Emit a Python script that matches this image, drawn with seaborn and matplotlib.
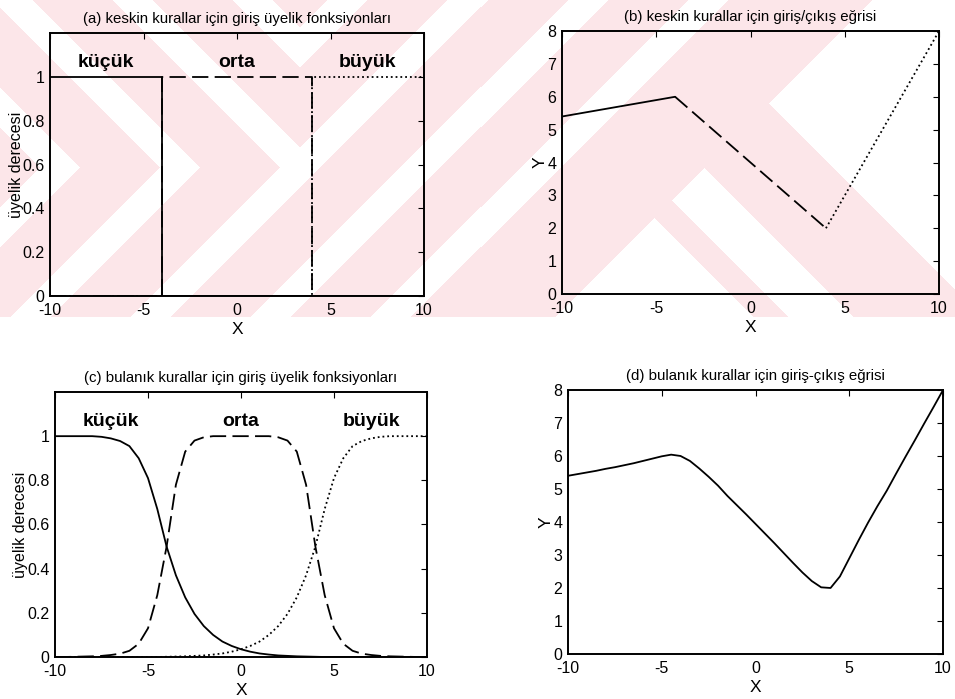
import numpy as np
import pandas as pd
import matplotlib
matplotlib.use("Agg")
import matplotlib.pyplot as plt
import seaborn as sns

# (a) crisp membership functions (step shapes)
a_kucuk_x = [-10, -4, -4, 10]
a_kucuk_y = [1, 1, 0, 0]
a_orta_x = [-10, -4, -4, 4, 4, 10]
a_orta_y = [0, 0, 1, 1, 0, 0]
a_buyuk_x = [-10, 4, 4, 10]
a_buyuk_y = [0, 0, 1, 1]

# (b) crisp input/output curve
b_kucuk_x = [-10, -4]
b_kucuk_y = [5.4, 6.0]
b_orta_x = [-4, 4]
b_orta_y = [6.0, 2.0]
b_buyuk_x = [4, 10]
b_buyuk_y = [2.0, 8.0]

# (c) fuzzy membership functions, read every 0.5 on x
c_x = [-10, -9.5, -9, -8.5, -8, -7.5, -7, -6.5, -6, -5.5, -5, -4.5, -4, -3.5, -3,
       -2.5, -2, -1.5, -1, -0.5, 0, 0.5, 1, 1.5, 2, 2.5, 3, 3.5, 4, 4.5, 5,
       5.5, 6, 6.5, 7, 7.5, 8, 8.5, 9, 9.5, 10]
c_kucuk = [1.0, 1.0, 1.0, 1.0, 1.0, 0.997, 0.99, 0.978, 0.955, 0.9, 0.81, 0.67, 0.5,
           0.37, 0.27, 0.195, 0.14, 0.1, 0.07, 0.05, 0.035, 0.024, 0.016, 0.011, 0.007,
           0.005, 0.003, 0.002, 0.001, 0, 0, 0, 0, 0, 0, 0, 0, 0, 0, 0, 0]
c_orta = [0, 0, 0.001, 0.002, 0.003, 0.005, 0.009, 0.015, 0.028, 0.06, 0.13, 0.28, 0.5,
          0.78, 0.93, 0.98, 0.995, 1.0, 1.0, 1.0, 1.0, 1.0, 1.0, 1.0, 0.995, 0.98, 0.93,
          0.78, 0.5, 0.28, 0.13, 0.06, 0.028, 0.015, 0.009, 0.005, 0.003, 0.002, 0.001, 0, 0]
c_buyuk = c_kucuk[::-1]

# (d) fuzzy input/output curve
d_y = [5.40, 5.45, 5.50, 5.55, 5.61, 5.66, 5.72, 5.78, 5.85, 5.92, 5.99, 6.04, 6.0,
       5.85, 5.62, 5.37, 5.10, 4.79, 4.51, 4.23, 3.94, 3.65, 3.36, 3.06, 2.76, 2.47,
       2.21, 2.02, 2.0, 2.35, 2.9, 3.45, 3.98, 4.48, 4.95, 5.47, 5.98, 6.48, 6.99, 7.49, 8.0]

set_names = ["küçük", "orta", "büyük"]
set_label_x = [-7, 0, 7]

sns.set_theme(style="white")
plt.rcParams["font.family"] = ["Liberation Sans", "DejaVu Sans"]
plt.rcParams["axes.linewidth"] = 1.4
plt.rcParams["axes.edgecolor"] = "black"
plt.rcParams["text.color"] = "black"
plt.rcParams["axes.labelcolor"] = "black"

W, H = 955, 699
fig = plt.figure(figsize=(W / 100, H / 100), dpi=100)
fig.patch.set_facecolor("white")

# faint pink striped watermark of the scanned page (top half only)
bg = fig.add_axes([0, 0, 1, 1], zorder=-5)
gx, gy = np.meshgrid(np.arange(W), np.arange(H))
diag_up = gx + gy
diag_dn = gx - gy
chev = gx + np.abs(gy - 167) + 167
phase = np.where((gx < 300) & (gy < 167), chev, diag_up)
white = (((phase - 207) % 120) < 40) & (diag_up < 730)
white_lr = (diag_dn > 664) | (diag_dn < 436) | ((diag_dn > 470) & (diag_dn < 536))
white = np.where(diag_up > 870, white_lr, white)
mask = (gy < 317) & ~white
img = np.ones((H, W, 3))
img[mask] = np.array([252, 230, 233]) / 255
bg.imshow(img, extent=[0, W, H, 0], aspect="auto", interpolation="nearest")
bg.set_axis_off()

boxes = {
    "a": [0.0524, 0.5765, 0.3916, 0.3763],
    "b": [0.5885, 0.5794, 0.3948, 0.3762],
    "c": [0.0576, 0.0601, 0.3895, 0.3791],
    "d": [0.5948, 0.0644, 0.3927, 0.3777],
}
titles = {
    "a": "(a) keskin kurallar için giriş üyelik fonksiyonları",
    "b": "(b) keskin kurallar için giriş/çıkış eğrisi",
    "c": "(c) bulanık kurallar için giriş üyelik fonksiyonları",
    "d": "(d) bulanık kurallar için giriş-çıkış eğrisi",
}

dash = (0, (9, 3.5))
lw = 1.3
axes = {}
for key, box in boxes.items():
    ax = fig.add_axes(box)
    ax.set_facecolor("none")
    ax.set_xlim(-10, 10)
    ax.set_xticks([-10, -5, 0, 5, 10])
    ax.tick_params(direction="in", top=True, right=True, length=4, width=0.8,
                   labelsize=11.5, colors="black")
    ax.tick_params(axis="x", pad=5)
    ax.tick_params(axis="y", pad=4)
    ax.set_title(titles[key], fontsize=10.8, pad=7, color="black")
    ax.set_xlabel("X", fontsize=12.5, labelpad=3)
    axes[key] = ax

# (a)
ax = axes["a"]
sns.lineplot(x=a_kucuk_x, y=a_kucuk_y, ax=ax, color="black", lw=lw, sort=False, estimator=None)
sns.lineplot(x=a_orta_x, y=a_orta_y, ax=ax, color="black", lw=lw, linestyle=dash, sort=False, estimator=None)
sns.lineplot(x=a_buyuk_x, y=a_buyuk_y, ax=ax, color="black", lw=lw, linestyle=":", sort=False, estimator=None)

# (b)
ax = axes["b"]
sns.lineplot(x=b_kucuk_x, y=b_kucuk_y, ax=ax, color="black", lw=lw, sort=False, estimator=None)
sns.lineplot(x=b_orta_x, y=b_orta_y, ax=ax, color="black", lw=lw, linestyle=dash, sort=False, estimator=None)
sns.lineplot(x=b_buyuk_x, y=b_buyuk_y, ax=ax, color="black", lw=lw, linestyle=":", sort=False, estimator=None)

# (c)
ax = axes["c"]
sns.lineplot(x=c_x, y=c_kucuk, ax=ax, color="black", lw=lw, sort=False, estimator=None)
sns.lineplot(x=c_x, y=c_orta, ax=ax, color="black", lw=lw, linestyle=dash, sort=False, estimator=None)
sns.lineplot(x=c_x, y=c_buyuk, ax=ax, color="black", lw=lw, linestyle=":", sort=False, estimator=None)

# (d)
ax = axes["d"]
sns.lineplot(x=c_x, y=d_y, ax=ax, color="black", lw=lw, sort=False, estimator=None)

for key in ["a", "c"]:
    ax = axes[key]
    ax.set_ylim(0, 1.2)
    ax.set_yticks([0, 0.2, 0.4, 0.6, 0.8, 1])
    ax.set_yticklabels(["0", "0.2", "0.4", "0.6", "0.8", "1"])
    ax.set_ylabel("üyelik derecesi", fontsize=11.5, labelpad=-1)
    for name, tx in zip(set_names, set_label_x):
        ax.text(tx, 1.065, name, ha="center", va="center", fontsize=14, fontweight="bold")

for key in ["b", "d"]:
    ax = axes[key]
    ax.set_ylim(0, 8)
    ax.set_yticks(range(0, 9))
    ax.set_ylabel("Y", fontsize=12.5, labelpad=0)

for ax in axes.values():
    ax.set_xticklabels(["-10", "-5", "0", "5", "10"])
    for s in ax.spines.values():
        s.set_visible(True)
        s.set_color("black")

fig.savefig("out.png", dpi=100)
